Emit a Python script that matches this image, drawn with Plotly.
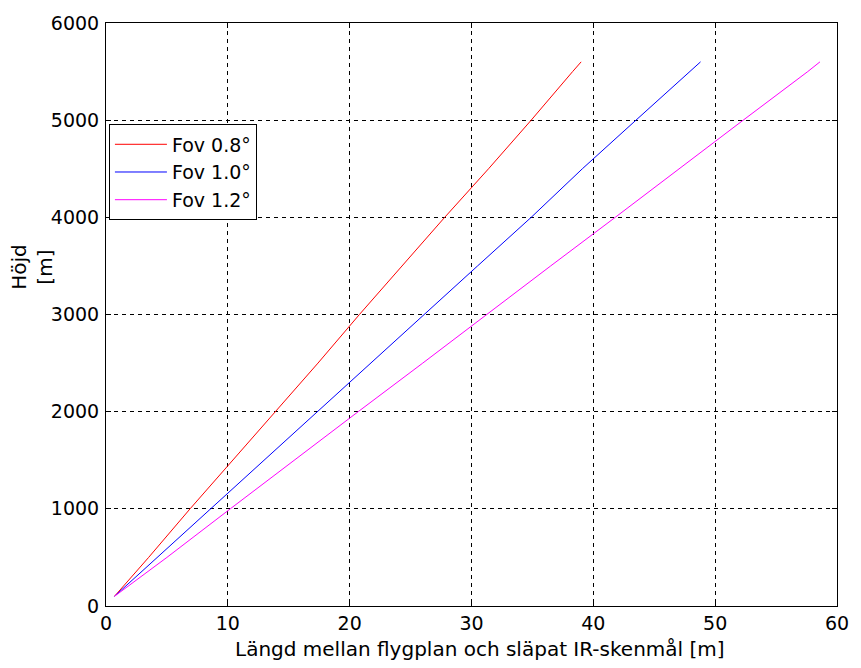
import plotly.graph_objects as go

# Höjd (m) versus length (m) for three fields of view
hojd = [100, 500, 1000, 1500, 2000, 2500, 3000, 3500, 4000, 4500, 5000, 5500, 5600]
langd_08 = [0.7, 3.5, 6.9, 10.4, 13.9, 17.4, 20.8, 24.3, 27.8, 31.4, 34.9, 38.3, 39.0]
langd_10 = [0.7, 4.2, 8.6, 13.0, 17.3, 21.7, 26.1, 30.5, 34.9, 39.1, 43.5, 47.9, 48.8]
langd_12 = [0.7, 5.0, 10.2, 15.4, 20.7, 26.0, 31.2, 36.5, 41.8, 47.1, 52.3, 57.6, 58.6]

x_ticks = [0, 10, 20, 30, 40, 50, 60]
y_ticks = [0, 1000, 2000, 3000, 4000, 5000, 6000]

series = [
    ("Fov 0.8°", langd_08, "#ff0000"),
    ("Fov 1.0°", langd_10, "#0000ff"),
    ("Fov 1.2°", langd_12, "#ff00ff"),
]

FONT = "DejaVu Sans"

fig = go.Figure()
for name, xs, color in series:
    fig.add_trace(go.Scatter(x=xs, y=hojd, mode="lines", name=name,
                             line=dict(color=color, width=1)))

axis_common = dict(
    showline=True, linecolor="black", linewidth=1, mirror="ticks",
    ticks="inside", ticklen=5, tickcolor="black", tickwidth=1,
    showgrid=True, gridcolor="black", gridwidth=1, griddash="4px,4px",
    zeroline=False, tickfont=dict(family=FONT, size=19, color="black"),
)

fig.update_layout(
    width=861, height=668,
    margin=dict(l=106, r=12, t=20, b=62),
    paper_bgcolor="white", plot_bgcolor="white",
    font=dict(family=FONT, size=20, color="black"),
    xaxis=dict(range=[0, 60], tickvals=x_ticks, **axis_common),
    yaxis=dict(range=[0, 6000], tickvals=y_ticks, ticklabelstandoff=2,
               **axis_common),
    legend=dict(x=0.004, y=0.826, xanchor="left", yanchor="top",
                bgcolor="white", bordercolor="black", borderwidth=1,
                font=dict(family=FONT, size=19), tracegroupgap=0,
                itemwidth=52),
    showlegend=True,
    annotations=[
        dict(text="Längd mellan flygplan och släpat IR-skenmål [m]",
             xref="paper", yref="paper", x=0.511, y=-0.074,
             xanchor="center", yanchor="middle", showarrow=False,
             font=dict(family=FONT, size=20)),
        dict(text="Höjd<br>[m]", textangle=-90,
             xref="paper", yref="paper", x=-0.101, y=0.582,
             xanchor="center", yanchor="middle", showarrow=False,
             font=dict(family=FONT, size=20)),
    ],
)

fig.write_html("out.html")
